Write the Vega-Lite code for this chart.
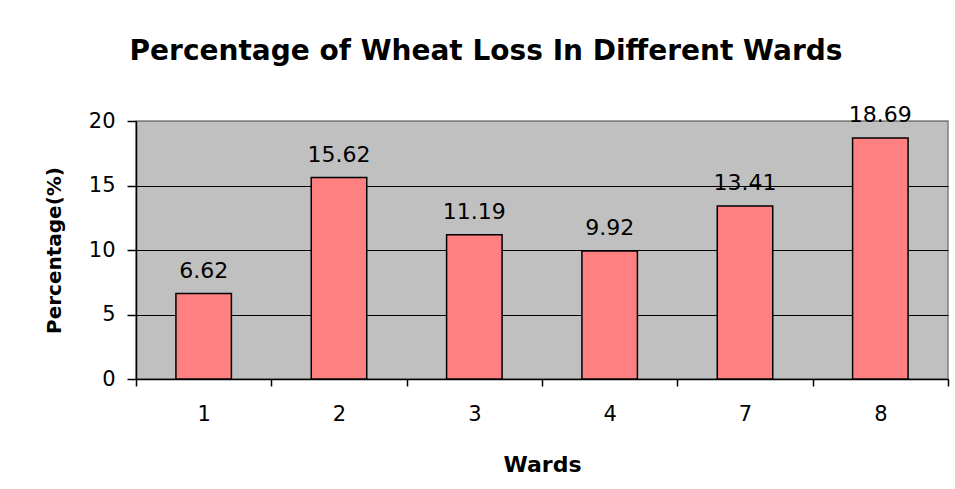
{
  "$schema": "https://vega.github.io/schema/vega-lite/v6.json",
  "width": 812,
  "height": 258,
  "autosize": {"type": "none"},
  "padding": {"left": 136, "top": 121, "right": 7, "bottom": 110},
  "background": "white",
  "title": {
    "text": "Percentage of Wheat Loss In Different Wards",
    "font": "DejaVu Sans",
    "fontSize": 28,
    "fontWeight": "bold",
    "color": "black",
    "anchor": "middle",
    "dx": -56,
    "offset": 38
  },
  "data": {
    "values": [
      {"ward": "1", "pct": 6.62},
      {"ward": "2", "pct": 15.62},
      {"ward": "3", "pct": 11.19},
      {"ward": "4", "pct": 9.92},
      {"ward": "7", "pct": 13.41},
      {"ward": "8", "pct": 18.69}
    ]
  },
  "encoding": {
    "x": {
      "field": "ward",
      "type": "nominal",
      "sort": null,
      "scale": {"paddingInner": 0, "paddingOuter": 0},
      "axis": {
        "title": "Wards",
        "labelAngle": 0,
        "tickBand": "extent",
        "tickSize": 7,
        "tickColor": "black",
        "tickWidth": 1.5,
        "domainColor": "black",
        "domainWidth": 1.5,
        "labelFont": "DejaVu Sans",
        "labelFontSize": 21,
        "labelColor": "black",
        "labelPadding": 17,
        "titleFont": "DejaVu Sans",
        "titleFontSize": 22,
        "titleFontWeight": "bold",
        "titleColor": "black",
        "titlePadding": 30
      }
    }
  },
  "layer": [
    {
      "mark": {"type": "bar", "width": {"band": 0.41}, "fill": "#FF8080", "stroke": "black", "strokeWidth": 1.5},
      "encoding": {
        "y": {
          "field": "pct",
          "type": "quantitative",
          "scale": {"domain": [0, 20], "nice": false},
          "axis": {
            "title": "Percentage(%)",
            "values": [0, 5, 10, 15, 20],
            "grid": true,
            "gridColor": {"condition": {"test": "datum.value === 20", "value": "#808080"}, "value": "black"},
            "gridWidth": 1,
            "tickSize": 9,
            "tickColor": "black",
            "tickWidth": 1.5,
            "domainColor": "black",
            "domainWidth": 1.5,
            "labelFont": "DejaVu Sans",
            "labelFontSize": 21,
            "labelColor": "black",
            "labelPadding": 12,
            "titleFont": "DejaVu Sans",
            "titleFontSize": 20,
            "titleFontWeight": "bold",
            "titleColor": "black",
            "titlePadding": 24
          }
        }
      }
    },
    {
      "mark": {"type": "text", "font": "DejaVu Sans", "fontSize": 22, "color": "black", "baseline": "alphabetic", "dy": -16},
      "encoding": {
        "y": {"field": "pct", "type": "quantitative"},
        "text": {"field": "pct", "type": "quantitative", "format": ".2f"}
      }
    }
  ],
  "config": {
    "view": {"fill": "#C0C0C0", "stroke": "#808080", "strokeWidth": 1.5}
  }
}
